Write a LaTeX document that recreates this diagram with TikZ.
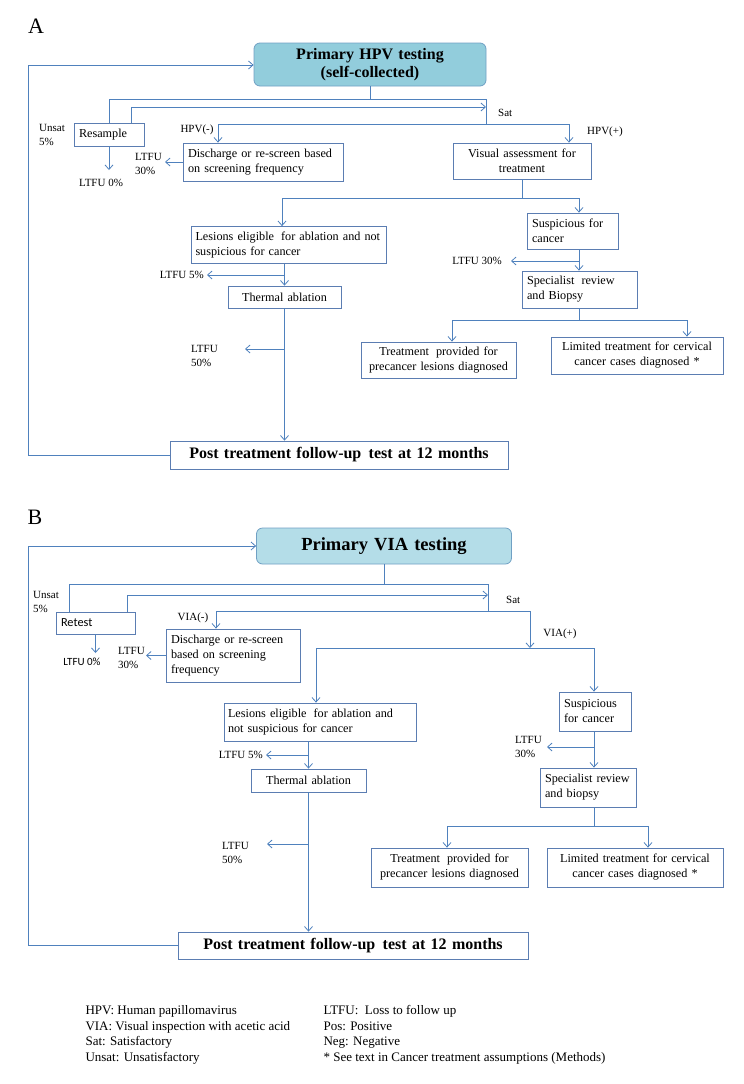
\documentclass[tikz,border=0pt]{standalone}
\usepackage{fontspec}
\setmainfont{Liberation Serif}
\newfontfamily\calibri{Carlito}
\usetikzlibrary{arrows.meta}
\definecolor{linec}{RGB}{79,129,189}
\definecolor{boxc}{RGB}{91,125,178}
\definecolor{titlec}{RGB}{112,160,196}
\definecolor{hpvfill}{RGB}{146,205,220}
\definecolor{viafill}{RGB}{180,221,232}

\begin{document}
\begin{tikzpicture}[
        x=1pt, y=-1pt,
        every node/.style={align=center, text=black},
        box/.style={draw=boxc, line width=0.8pt, inner xsep=5pt, inner ysep=1pt, font=\fontsize{12.2}{15}\selectfont},
        titlebox/.style={box, font=\bfseries\fontsize{16}{17.5}\selectfont},
        lbl/.style={inner sep=1pt, align=left, font=\fontsize{11}{14}\selectfont},
        wire/.style={draw=linec, line width=0.8pt},
        arr/.style={wire, -{Straight Barb[length=4.5pt,width=8pt]}},
    ]
    \useasboundingbox (0,0) rectangle (744,1084);

    \node[font=\fontsize{22}{22}\selectfont] (labA) at (36,26) {A};
    \node[titlebox, draw=titlec, fill=hpvfill, rounded corners=6pt, text width=222, minimum height=43] (hpvA) at (370,64.5) {Primary HPV testing\\(self-collected)};
    \node[box, text width=60, minimum height=23, align=left] (resA) at (109,134.5) {Resample};
    \node[box, text width=150, minimum height=38, align=left] (disA) at (263,162) {Discharge or re-screen based\\on screening frequency};
    \node[box, text width=128, minimum height=36] (visA) at (522,161) {Visual assessment for\\treatment};
    \node[box, inner xsep=4pt, text width=187, minimum height=37, align=left] (lesA) at (289,245) {Lesions eligible\hspace{3pt} for ablation and not\\suspicious for cancer};
    \node[box, text width=81, minimum height=36, align=left] (susA) at (572.5,231) {Suspicious for\\cancer};
    \node[box, text width=105, minimum height=37, align=left] (speA) at (579.5,289.5) {Specialist\hspace{3pt} review\\and Biopsy};
    \node[box, text width=103, minimum height=22] (theA) at (284.5,297) {Thermal ablation};
    \node[box, text width=145, minimum height=36] (treA) at (438.5,360) {Treatment\hspace{3pt} provided for\\precancer lesions diagnosed};
    \node[box, text width=162, minimum height=37] (limA) at (637,355.5) {Limited treatment for cervical\\cancer cases diagnosed *};
    \node[titlebox, text width=328, minimum height=28] (posA) at (339,455) {Post treatment follow-up\hspace{2pt} test at 12 months};

    \node[lbl, anchor=west] (unsatA) at (38,135) {Unsat\\5\%};
    \node[lbl, anchor=west] (satlA) at (497,113) {Sat};
    \node[lbl] (hnegA) at (197,130) {HPV(-)};
    \node[lbl] (hposA) at (605,132) {HPV(+)};
    \node[lbl] (lt0A) at (101,183) {LTFU 0\%};
    \node[lbl, anchor=west] (lt30A) at (134,164) {LTFU\\30\%};
    \node[lbl, anchor=east] (lt30bA) at (503,261) {LTFU 30\%};
    \node[lbl, anchor=east] (lt5A) at (205,275) {LTFU 5\%};
    \node[lbl, anchor=west] (lt50A) at (190,356) {LTFU\\50\%};

    \coordinate (loopA) at (28,65);
    \coordinate (satA) at (486,99);
    \coordinate (satbA) at (486,124);
    \coordinate (retA) at (486,107);
    \coordinate (negA) at (218,124);
    \coordinate (posbA) at (569,124);
    \coordinate (lesinA) at (282,198);
    \coordinate (susinA) at (579,198);
    \coordinate (treinA) at (452,320);
    \coordinate (liminA) at (687,320);
    \coordinate (t0A) at (109,170);
    \coordinate (t30A) at (165,163);
    \coordinate (t30bA) at (511,261);
    \coordinate (t5A) at (207,275);
    \coordinate (t50A) at (245,349);

    \draw[arr] (posA.west) -| (loopA) -- (loopA -| hpvA.west);
    \draw[wire] (hpvA.south) -- (hpvA.south |- satA);
    \draw[wire] (resA.north) |- (satA) -- (satbA);
    \draw[arr] ([xshift=-13pt]resA.north east) |- (retA);
    \draw[arr] (satbA) -| (disA.north -| negA);
    \draw[arr] (satbA) -| (visA.north -| posbA);
    \draw[arr] (resA.south) -- (t0A);
    \draw[arr] (disA.west) -- (disA.west -| t30A);
    \draw[wire] (visA.south) -- (visA.south |- lesinA);
    \draw[arr] (visA.south |- lesinA) -| (lesA.north -| lesinA);
    \draw[arr] (visA.south |- lesinA) -| (susA.north -| susinA);
    \draw[arr] (susA.south -| susinA) -- (speA.north -| susinA);
    \draw[arr] (susinA |- t30bA) -- (t30bA);
    \draw[arr] (lesA.south -| theA.north) -- (theA.north);
    \draw[arr] (theA.north |- t5A) -- (t5A);
    \draw[arr] (theA.south) -- (theA.south |- posA.north);
    \draw[arr] (theA.south |- t50A) -- (t50A);
    \draw[wire] (speA.south) -- (speA.south |- treinA);
    \draw[arr] (speA.south |- treinA) -| (treA.north -| treinA);
    \draw[arr] (speA.south |- treinA) -| (limA.north -| liminA);

    \node[font=\fontsize{22}{22}\selectfont] (labB) at (35,517) {B};
    \node[titlebox, draw=titlec, fill=viafill, rounded corners=6pt, text width=245, minimum height=36, font=\bfseries\fontsize{18.5}{20}\selectfont] (viaB) at (384,546) {Primary VIA testing};
    \node[box, text width=69, minimum height=22, align=left, font=\calibri\fontsize{12.3}{15}\selectfont] (retB) at (95.5,623) {Retest};
    \node[box, text width=124, minimum height=53, align=left] (disB) at (233,655.5) {Discharge or re-screen\\based on screening\\frequency};
    \node[box, inner xsep=4pt, text width=184, minimum height=38, align=left] (lesB) at (320,722) {Lesions eligible\hspace{3pt} for ablation and\\not suspicious for cancer};
    \node[box, text width=62, minimum height=39, align=left] (susB) at (595,711.5) {Suspicious\\for cancer};
    \node[box, text width=86, minimum height=39, align=left] (speB) at (588,787.5) {Specialist review\\and biopsy};
    \node[box, text width=105, minimum height=23] (theB) at (308.5,780.5) {Thermal ablation};
    \node[box, text width=147, minimum height=39] (treB) at (449.5,867.5) {Treatment\hspace{3pt} provided for\\precancer lesions diagnosed};
    \node[box, text width=166, minimum height=39] (limB) at (635,867.5) {Limited treatment for cervical\\cancer cases diagnosed *};
    \node[titlebox, text width=340, minimum height=27] (posB) at (353,945.5) {Post treatment follow-up\hspace{2pt} test at 12 months};

    \node[lbl, anchor=west] (unsatB) at (32,602) {Unsat\\5\%};
    \node[lbl, anchor=west] (satlB) at (505,600) {Sat};
    \node[lbl] (vnegB) at (193,618) {VIA(-)};
    \node[lbl] (vposB) at (560,634) {VIA(+)};
    \node[lbl, font=\calibri\fontsize{11}{14}\selectfont] (lt0B) at (82,662) {LTFU 0\%};
    \node[lbl, anchor=west] (lt30B) at (117,658) {LTFU\\30\%};
    \node[lbl, anchor=west] (lt30bB) at (514,747) {LTFU\\30\%};
    \node[lbl, anchor=east] (lt5B) at (264,755) {LTFU 5\%};
    \node[lbl, anchor=west] (lt50B) at (221,853) {LTFU\\50\%};

    \coordinate (loopB) at (28,546);
    \coordinate (satB) at (488,584);
    \coordinate (satbB) at (488,611);
    \coordinate (retjB) at (488,595);
    \coordinate (negB) at (216,611);
    \coordinate (vpjB) at (530,611);
    \coordinate (vpbB) at (530,648);
    \coordinate (lesinB) at (316,648);
    \coordinate (susinB) at (594,648);
    \coordinate (treinB) at (447,826);
    \coordinate (liminB) at (648,826);
    \coordinate (t0B) at (95.5,653);
    \coordinate (t30B) at (146,657);
    \coordinate (t30bB) at (547,747);
    \coordinate (t5B) at (266,755);
    \coordinate (t50B) at (267,844);

    \draw[arr] (posB.west) -| (loopB) -- (loopB -| viaB.west);
    \draw[wire] (viaB.south) -- (viaB.south |- satB);
    \draw[wire] ([xshift=14pt]retB.north west) |- (satB) -- (satbB);
    \draw[arr] ([xshift=-8pt]retB.north east) |- (retjB);
    \draw[arr] (satbB) -| (disB.north -| negB);
    \draw[wire] (satbB) -- (vpjB);
    \draw[arr] (vpjB) -- (vpbB);
    \draw[arr] (retB.south) -- (t0B);
    \draw[arr] (disB.west) -- (disB.west -| t30B);
    \draw[wire] (lesinB) -- (susinB);
    \draw[arr] (lesinB) -- (lesinB |- lesB.north);
    \draw[arr] (susinB) -- (susinB |- susB.north);
    \draw[arr] (susinB |- susB.south) -- (susinB |- speB.north);
    \draw[arr] (susinB |- t30bB) -- (t30bB);
    \draw[arr] (lesB.south -| theB.north) -- (theB.north);
    \draw[arr] (theB.north |- t5B) -- (t5B);
    \draw[arr] (theB.south) -- (theB.south |- posB.north);
    \draw[arr] (theB.south |- t50B) -- (t50B);
    \draw[wire] (susinB |- speB.south) -- (susinB |- treinB);
    \draw[arr] (susinB |- treinB) -| (treB.north -| treinB);
    \draw[arr] (susinB |- treinB) -| (limB.north -| liminB);

    \node[anchor=west, align=left, font=\fontsize{13}{15.5}\selectfont] (keyL) at (82,1035) {HPV: Human papillomavirus\\VIA: Visual inspection with acetic acid\\Sat: Satisfactory\\Unsat: Unsatisfactory};
    \node[anchor=west, align=left, font=\fontsize{13}{15.5}\selectfont] (keyR) at (320,1035) {LTFU:\ \ Loss to follow up\\Pos: Positive\\Neg: Negative\\* See text in Cancer treatment assumptions (Methods)};
\end{tikzpicture}
\end{document}
